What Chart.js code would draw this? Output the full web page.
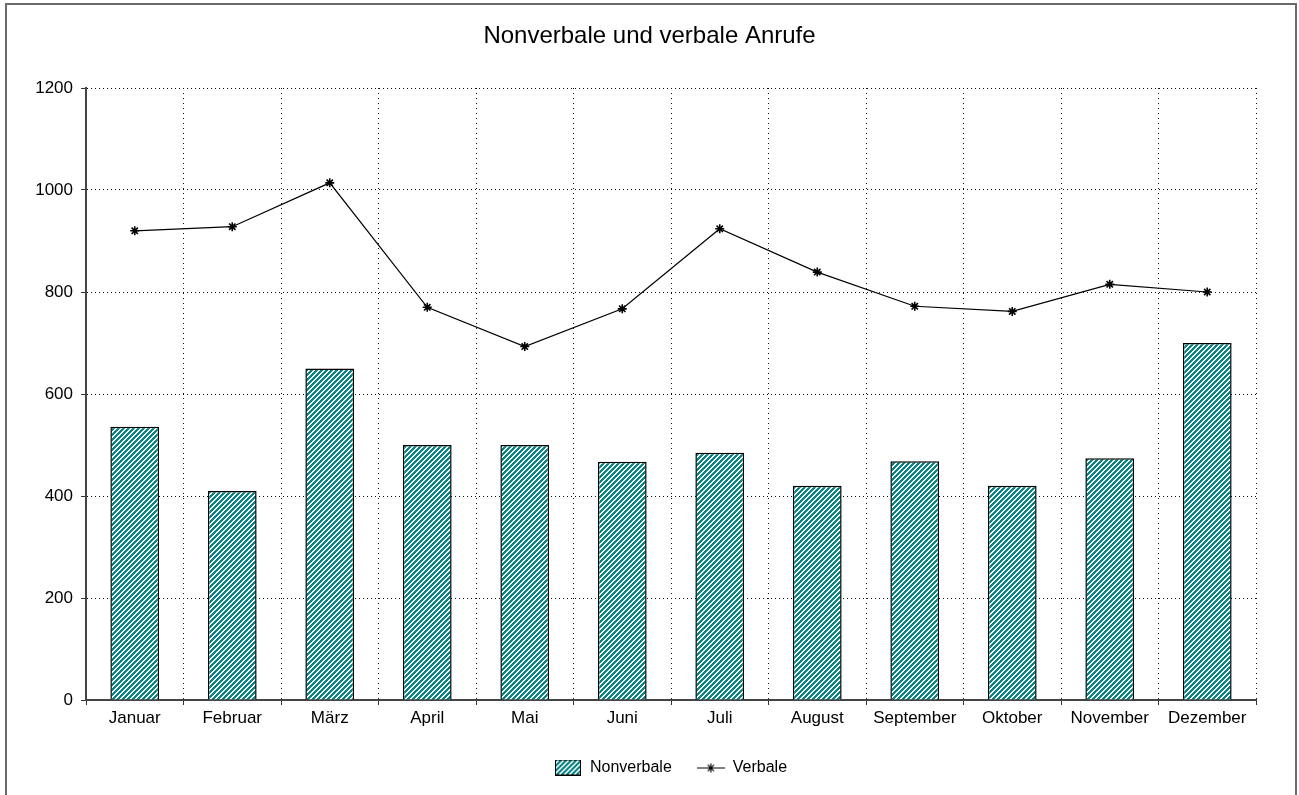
<!DOCTYPE html>
<html>
<head>
<meta charset="utf-8">
<script src="https://cdn.jsdelivr.net/npm/chart.js@4.4.0/dist/chart.umd.min.js"></script>
<style>
  html, body { margin: 0; padding: 0; background: #ffffff; overflow: hidden; }
  #wrap { position: relative; width: 1299px; height: 795px; overflow: hidden; }
  #c { position: absolute; left: 0; top: 0; }
  #frame { position: absolute; left: 5px; top: 3px; width: 1292px; height: 830px; border: 2px solid #6a6a6a; box-sizing: border-box; pointer-events: none; }
</style>
</head>
<body>
<div id="wrap">
  <canvas id="c" width="1299" height="795"></canvas>
  <div id="frame"></div>
</div>
<script>
const titleText = 'Nonverbale und verbale Anrufe';
const categories = ['Januar', 'Februar', 'März', 'April', 'Mai', 'Juni', 'Juli', 'August', 'September', 'Oktober', 'November', 'Dezember'];
const seriesNames = ['Nonverbale', 'Verbale'];
const nonverbale = [536, 410, 650, 500, 500, 467, 485, 420, 468, 420, 474, 700];
const verbale = [920, 928, 1014, 770, 693, 767, 924, 839, 772, 762, 815, 800];
const yMin = 0, yMax = 1200, yStep = 200;

const FONT = '"Liberation Sans", Arial, Helvetica, sans-serif';
const TEAL = '#0a8585';

const canvas = document.getElementById('c');
const ctx = canvas.getContext('2d');

function stripeTile() {
  const n = 5;
  const t = document.createElement('canvas');
  t.width = n; t.height = n;
  const g = t.getContext('2d');
  g.fillStyle = '#ffffff';
  g.fillRect(0, 0, n, n);
  g.fillStyle = TEAL;
  for (let i = 0; i < n; i++) {
    for (let j = 0; j < n; j++) {
      if ((i + j) % n < 3) g.fillRect(i, j, 1, 1);
    }
  }
  return t;
}
const stripes = ctx.createPattern(stripeTile(), 'repeat');

function barIcon() {
  const c = document.createElement('canvas');
  c.width = 26; c.height = 16;
  const g = c.getContext('2d');
  g.fillStyle = g.createPattern(stripeTile(), 'repeat');
  g.fillRect(0, 0, 26, 16);
  g.strokeStyle = '#000';
  g.lineWidth = 1;
  g.strokeRect(0.5, 0.5, 25, 15);
  return c;
}
function lineIcon() {
  const c = document.createElement('canvas');
  c.width = 28; c.height = 12;
  const g = c.getContext('2d');
  g.strokeStyle = '#000';
  g.lineWidth = 1.2;
  g.beginPath();
  g.moveTo(0, 6.5); g.lineTo(28, 6.5);
  const r = 4.5, cx = 14, cy = 6.5;
  for (let a = 0; a < 4; a++) {
    const ang = a * Math.PI / 4;
    g.moveTo(cx - r * Math.cos(ang), cy - r * Math.sin(ang));
    g.lineTo(cx + r * Math.cos(ang), cy + r * Math.sin(ang));
  }
  g.stroke();
  return c;
}
const legendIcons = [barIcon(), lineIcon()];

// Title is centred on the page, legend slightly right of it (as in the original)
const boxShift = {
  id: 'boxShift',
  afterLayout(chart) {
    const tb = chart.titleBlock;
    if (tb) { tb.left += 21.5; tb.right += 21.5; }
    const lg = chart.legend;
    if (lg) { lg.left += 42.5; lg.right += 42.5; }
  }
};

new Chart(ctx, {
  data: {
    labels: categories,
    datasets: [
      {
        type: 'bar',
        label: seriesNames[0],
        data: nonverbale,
        backgroundColor: stripes,
        borderColor: '#000000',
        borderWidth: 1.5,
        categoryPercentage: 0.5,
        barPercentage: 1.0,
        order: 1
      },
      {
        type: 'line',
        label: seriesNames[1],
        data: verbale,
        borderColor: '#000000',
        borderWidth: 1.2,
        tension: 0,
        fill: false,
        pointStyle: 'star',
        pointRadius: 4.5,
        pointBorderColor: '#000000',
        pointBackgroundColor: '#000000',
        pointBorderWidth: 1.6,
        order: 0
      }
    ]
  },
  options: {
    responsive: false,
    animation: false,
    devicePixelRatio: 1,
    layout: { padding: { left: 0, right: 43, top: 0, bottom: 9.5 } },
    plugins: {
      title: {
        display: true,
        text: titleText,
        color: '#000000',
        font: { family: FONT, size: 24, weight: 'normal' },
        padding: { top: 21.6, bottom: 37.6 }
      },
      legend: {
        position: 'bottom',
        labels: {
          usePointStyle: true,
          pointStyleWidth: 28,
          padding: 25,
          color: '#000000',
          font: { family: FONT, size: 16 },
          generateLabels(chart) {
            const items = Chart.defaults.plugins.legend.labels.generateLabels(chart);
            items.forEach(it => { it.pointStyle = legendIcons[it.datasetIndex]; });
            items.sort((a, b) => a.datasetIndex - b.datasetIndex);
            return items;
          }
        }
      },
      tooltip: { enabled: false }
    },
    scales: {
      x: {
        offset: true,
        grid: {
          offset: true,
          color: '#111111',
          lineWidth: 1,
          borderDash: [1, 4],
          tickLength: 5,
          tickColor: '#333333',
          tickBorderDash: []
        },
        border: { color: '#444444', width: 2, dash: [1, 4] },
        ticks: { color: '#000000', font: { family: FONT, size: 17 }, padding: 3, maxRotation: 0, autoSkip: false },
        afterFit(scale) { scale.height = 34.5; }
      },
      y: {
        min: yMin,
        max: yMax,
        grid: {
          color: '#111111',
          lineWidth: 1,
          borderDash: [1, 3],
          tickLength: 5,
          tickColor: '#333333',
          tickBorderDash: []
        },
        border: { color: '#444444', width: 2, dash: [1, 3] },
        ticks: {
          stepSize: yStep,
          color: '#000000',
          font: { family: FONT, size: 17 },
          padding: 8,
          callback: (v) => String(v)
        },
        afterFit(scale) { scale.width = 86; }
      }
    }
  },
  plugins: [boxShift]
});
</script>
</body>
</html>
